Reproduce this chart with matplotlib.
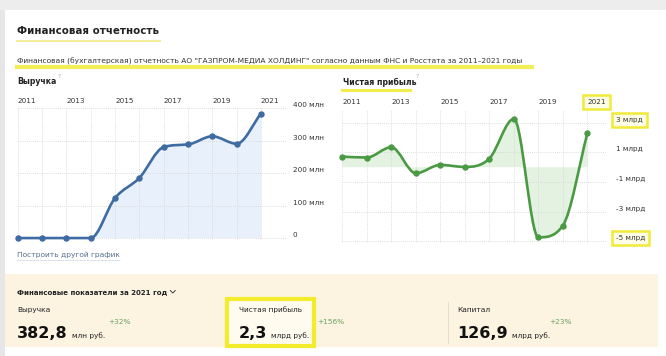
import numpy as np
import matplotlib
matplotlib.use("Agg")
import matplotlib.pyplot as plt
from matplotlib.path import Path
from matplotlib.patches import PathPatch, Rectangle
from matplotlib.lines import Line2D

# data
years = [2011, 2012, 2013, 2014, 2015, 2016, 2017, 2018, 2019, 2020, 2021]
revenue = [0, 0, 0, 0, 123, 185, 280, 288, 313, 290, 382.8]        # млн руб.
net_profit = [0.72, 0.66, 1.36, -0.41, 0.16, 0.02, 0.59, 3.28, -4.75, -3.95, 2.3]  # млрд руб.

year_labels = ["2011", "", "2013", "", "2015", "", "2017", "", "2019", "", "2021"]
rev_ticks = [0, 100, 200, 300, 400]
rev_tick_labels = ["0", "100 млн", "200 млн", "300 млн", "400 млн"]
np_ticks = [-5, -3, -1, 1, 3]
np_tick_labels = ["-5 млрд", "-3 млрд", "-1 млрд", "1 млрд", "3 млрд"]

summary_names = ["Выручка", "Чистая прибыль", "Капитал"]
summary_values = ["382,8", "2,3", "126,9"]
summary_units = ["млн руб.", "млрд руб.", "млрд руб."]
summary_change = ["+32%", "+156%", "+23%"]

W, H = 666, 356
YELLOW = "#f1ea3a"
TEXT = "#222222"
GRID = "#d4d4d4"


def fx(x):
    return x / W


def fy(y):
    return 1 - y / H


def add_ax(fig, left, right, top, bottom):
    return fig.add_axes([fx(left), fy(bottom), (right - left) / W, (bottom - top) / H])


def smooth(x, y):
    # monotone cubic (like d3 curveMonotoneX) as bezier segments
    x = np.asarray(x, float)
    y = np.asarray(y, float)
    dx = np.diff(x)
    d = np.diff(y) / dx
    m = np.empty_like(y)
    m[0], m[-1] = d[0], d[-1]
    m[1:-1] = (d[:-1] + d[1:]) / 2
    for i in range(1, len(y) - 1):
        if d[i - 1] * d[i] <= 0:
            m[i] = 0
    for i in range(len(d)):
        if d[i] == 0:
            m[i] = m[i + 1] = 0
            continue
        a, b = m[i] / d[i], m[i + 1] / d[i]
        s = a * a + b * b
        if s > 9:
            t = 3 / np.sqrt(s)
            m[i], m[i + 1] = t * a * d[i], t * b * d[i]
    verts = [(x[0], y[0])]
    codes = [Path.MOVETO]
    for i in range(len(dx)):
        h = dx[i] / 3
        verts += [(x[i] + h, y[i] + m[i] * h), (x[i + 1] - h, y[i + 1] - m[i + 1] * h), (x[i + 1], y[i + 1])]
        codes += [Path.CURVE4] * 3
    return verts, codes


def draw_series(ax, x, y, color, fill):
    verts, codes = smooth(x, y)
    fverts = verts + [(x[-1], 0), (x[0], 0), (x[0], 0)]
    fcodes = codes + [Path.LINETO, Path.LINETO, Path.CLOSEPOLY]
    ax.add_patch(PathPatch(Path(fverts, fcodes), facecolor=fill, edgecolor="none", zorder=1))
    ax.add_patch(PathPatch(Path(verts, codes), facecolor="none", edgecolor=color, lw=1.9,
                           capstyle="round", joinstyle="round", zorder=3, clip_on=False))
    ax.plot(x, y, "o", color=color, ms=3.6, zorder=4, clip_on=False)


def style_axes(ax, yticks, ylabels, pad_right):
    ax.set_xticks(years)
    ax.set_xticklabels(year_labels)
    ax.set_yticks(yticks)
    ax.set_yticklabels(ylabels)
    ax.xaxis.tick_top()
    ax.yaxis.tick_right()
    ax.tick_params(length=0, labelsize=5.2, labelcolor="#333333")
    ax.tick_params(axis="x", pad=3.2)
    ax.tick_params(axis="y", pad=pad_right)
    for lbl in ax.get_xticklabels():
        lbl.set_ha("left")
    for lbl in ax.get_yticklabels():
        lbl.set_ha("left")
        lbl.set_va("bottom")
    ax.grid(True, color=GRID, lw=0.6, ls=(0, (1, 1.5)))
    for s in ax.spines.values():
        s.set_visible(False)
    ax.set_facecolor("none")


fig = plt.figure(figsize=(W / 100, H / 100), dpi=100)
fig.patch.set_facecolor("white")

# page background bits
fig.add_artist(Rectangle((0, fy(10)), 1, 10 / H, transform=fig.transFigure, color="#ededed", lw=0))
fig.add_artist(Rectangle((0, 0), 5 / W, fy(10), transform=fig.transFigure, color="#e6e6e6", lw=0))

# headings
fig.text(fx(17), fy(31), "Финансовая отчетность", fontsize=7.4, fontweight="bold", color=TEXT, va="center")
fig.add_artist(Line2D([fx(17), fx(160)], [fy(41), fy(41)], color="#f2ee9c", lw=1.4))
fig.add_artist(Line2D([fx(17), fx(532)], [fy(67), fy(67)], color=YELLOW, lw=3, alpha=0.85))
fig.text(fx(17), fy(61),
         "Финансовая (бухгалтерская) отчетность АО \"ГАЗПРОМ-МЕДИА ХОЛДИНГ\" согласно данным ФНС и Росстата за 2011–2021 годы",
         fontsize=5.36, color="#333333", va="center")

fig.text(fx(17), fy(82), "Выручка", fontsize=5.6, fontweight="bold", color=TEXT, va="center")
fig.text(fx(58), fy(77), "?", fontsize=4.2, color="#aaaaaa", va="center")
fig.add_artist(Line2D([fx(342), fx(410)], [fy(89.5), fy(89.5)], color=YELLOW, lw=2.2, alpha=0.9))
fig.text(fx(343), fy(82), "Чистая прибыль", fontsize=5.6, fontweight="bold", color=TEXT, va="center")
fig.text(fx(416), fy(76), "?", fontsize=4.2, color="#aaaaaa", va="center")

# revenue chart
ax1 = add_ax(fig, 17.7, 287, 108, 240)
ax1.set_xlim(2011, 2022.07)
ax1.set_ylim(-6, 400)
style_axes(ax1, rev_ticks, rev_tick_labels, 4.3)
draw_series(ax1, years, revenue, "#3f6ba3", "#e8f0fb")

# net profit chart
ax2 = add_ax(fig, 342.3, 607, 109.7, 242.5)
ax2.set_xlim(2011, 2021.8)
ax2.set_ylim(-5.1, 3.9)
style_axes(ax2, np_ticks, np_tick_labels, 6.5)
draw_series(ax2, years, net_profit, "#4a9a44", "#e4f2e1")
box = dict(boxstyle="square,pad=0.55", fc="#fffde6", ec=YELLOW, lw=1.8)
ax2.get_xticklabels()[-1].set_bbox(box)
ax2.get_yticklabels()[0].set_bbox(box)
ax2.get_yticklabels()[-1].set_bbox(box)

fig.text(fx(17), fy(255), "Построить другой график", fontsize=5.4, color="#54708f", va="center")
fig.add_artist(Line2D([fx(17), fx(120)], [fy(260), fy(260)], color="#9fb0c4", lw=0.5, ls=(0, (1, 1))))

# summary panel
fig.add_artist(Rectangle((fx(5), fy(347)), (658 - 5) / W, (347 - 274) / H, transform=fig.transFigure,
                         color="#fcf3e1", lw=0))
r = fig.canvas.get_renderer()
hdr = fig.text(fx(17), fy(292), "Финансовые показатели за 2021 год", fontsize=5.0, fontweight="bold",
               color=TEXT, va="center")
hx = hdr.get_window_extent(renderer=r).x1 + 3
fig.add_artist(Line2D([fx(hx), fx(hx + 2.5), fx(hx + 5)], [fy(290.5), fy(293), fy(290.5)], color=TEXT, lw=0.6))
fig.add_artist(Rectangle((fx(226.5), fy(345.5)), 87 / W, 47 / H, transform=fig.transFigure,
                         fc="#fffbee", ec="#f3ec2c", lw=3))
fig.add_artist(Line2D([fx(448), fx(448)], [fy(302), fy(343)], color="#e2dacb", lw=0.6))

xs = [17, 239, 457]
change_x = [108, 317, 549]
for x0, cx, name, val, unit, chg in zip(xs, change_x, summary_names, summary_values, summary_units, summary_change):
    fig.text(fx(x0), fy(310), name, fontsize=5.3, color=TEXT, va="center")
    t = fig.text(fx(x0), fy(338), val, fontsize=11.5, fontweight="bold", color="#111111", va="baseline")
    bb = t.get_window_extent(renderer=r)
    fig.text(bb.x1 / W + 4 / W, fy(338), unit, fontsize=5.3, color=TEXT, va="baseline")
    fig.text(fx(cx), fy(322), chg, fontsize=5.3, color="#6aa161", va="center")

fig.savefig("out.png", dpi=100, facecolor=fig.get_facecolor())
